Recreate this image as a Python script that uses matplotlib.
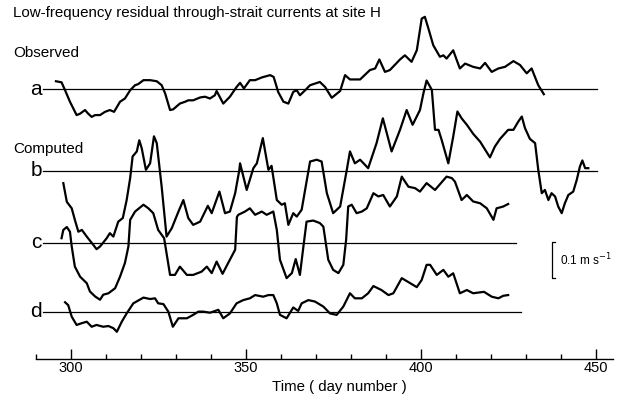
import matplotlib
matplotlib.use("Agg")
import matplotlib.pyplot as plt
import numpy as np

plt.rcParams['font.family'] = ['Liberation Sans', 'DejaVu Sans']

# velocities in cm/s, time in day number
a_day = [295.7, 297.3, 298.3, 299.7, 301.6, 302.6, 304.0, 304.9, 305.9, 306.9, 308.3, 309.7,
         311.1, 312.3, 314.0, 315.4, 316.9, 318.3, 319.2, 320.7, 322.6, 324.5, 325.9, 326.9,
         328.3, 329.2, 331.1, 332.6, 333.5, 334.9, 336.9, 338.3, 339.7, 341.1, 341.6, 343.5,
         345.4, 347.3, 348.3, 349.4, 351.1, 352.6, 354.5, 356.9, 357.9, 359.2, 360.7, 362.1,
         363.5, 364.5, 365.4, 366.9, 368.3, 371.1, 372.6, 374.5, 376.9, 378.3, 379.7, 382.6,
         385.4, 386.9, 388.1, 389.7, 391.1, 394.0, 395.4, 397.3, 398.8, 400.2, 401.1, 402.1,
         403.5, 405.4, 406.4, 407.3, 409.2, 410.2, 411.1, 412.6, 414.9, 416.9, 418.3, 420.2,
         422.1, 424.0, 426.4, 428.3, 430.2, 431.6, 433.5, 435.1]
a_vel = [2.2, 1.9, -0.3, -3.5, -7.2, -6.8, -5.8, -6.8, -7.7, -7.2, -7.2, -6.3,
         -5.8, -6.3, -3.5, -2.6, -0.3, 1.1, 1.4, 2.5, 2.5, 2.2, 1.1, -1.2,
         -5.8, -5.6, -4.0, -3.5, -3.1, -3.1, -2.3, -2.1, -2.6, -1.7, -0.5, -4.0,
         -2.1, 0.6, 1.75, 0.2, 2.5, 2.5, 3.25, 3.9, 3.4, -0.8, -3.5, -4.0,
         -0.75, -0.3, -1.7, -0.3, 1.1, 2.0, 0.6, -2.4, -0.5, 3.9, 2.7, 2.7,
         5.3, 5.75, 8.25, 4.8, 5.3, 8.25, 9.4, 7.6, 10.8, 19.6, 20.1, 16.9,
         12.2, 9.0, 9.4, 8.5, 10.8, 8.1, 5.75, 7.1, 6.2, 5.75, 7.3, 4.8,
         5.75, 6.2, 7.8, 6.7, 4.4, 5.75, 1.1, -1.4]

b_day = [297.8, 298.8, 300.2, 301.1, 302.1, 303.1, 304.5, 306.4, 307.3, 308.3, 310.2, 311.1,
         312.1, 313.5, 314.8, 315.9, 316.9, 317.6, 318.8, 319.5, 320.2, 321.4, 322.6, 323.7,
         324.5, 325.9, 327.3, 328.8, 330.7, 332.1, 333.5, 334.9, 336.9, 339.1, 340.2, 342.4,
         344.0, 345.4, 346.9, 348.1, 348.3, 350.2, 352.1, 353.1, 354.8, 356.4, 357.3, 358.8,
         360.2, 361.1, 362.1, 363.5, 364.5, 365.9, 368.3, 370.2, 371.6, 373.1, 374.9, 376.9,
         378.8, 379.7, 381.1, 382.6, 384.9, 387.3, 389.1, 391.6, 394.0, 395.9, 397.6, 399.7,
         400.7, 401.6, 403.1, 404.0, 405.0, 405.9, 407.8, 409.2, 410.4, 411.6, 413.1, 414.9,
         416.9, 419.7, 421.1, 422.6, 424.9, 426.4, 427.8, 428.8, 429.7, 431.1, 432.6, 433.5,
         434.5, 435.4, 436.4, 437.3, 438.3, 439.2, 440.2, 441.1, 442.1, 443.5, 444.5, 445.4,
         446.1, 446.9, 447.8]
b_vel = [-3.4, -8.6, -10.4, -13.6, -16.9, -16.4, -18.25, -20.6, -21.75, -21.0, -18.7, -17.3,
         -18.25, -14.1, -13.1, -8.1, -2.0, 4.0, 5.4, 8.5, 6.3, 0.3, 2.1, 9.6,
         7.7, -4.4, -18.25, -15.9, -11.3, -8.1, -13.1, -15.0, -14.1, -9.7, -11.75, -5.75,
         -11.75, -11.3, -6.2, 0.3, 2.1, -5.3, 0.75, 2.1, 9.1, 0.3, 1.4, -8.1,
         -9.4, -9.0, -15.0, -11.75, -12.7, -10.8, 2.6, 3.1, 2.6, -6.2, -11.75, -9.9,
         0.3, 5.4, 2.1, 3.1, 0.75, 7.7, 14.6, 5.4, 11.4, 16.9, 12.8, 16.9,
         21.6, 25.1, 22.5, 11.4, 11.4, 8.6, 2.1, 9.5, 16.5, 14.6, 12.8, 10.3,
         8.1, 3.75, 6.75, 8.9, 11.4, 11.4, 13.7, 15.1, 11.9, 8.9, 7.7, 0.3,
         -6.2, -5.3, -8.1, -6.2, -7.1, -9.9, -11.75, -9.0, -6.7, -5.75, -2.5, 1.2,
         2.9, 0.75, 0.75]

c_day = [297.3, 297.8, 298.8, 299.7, 300.2, 301.1, 302.6, 304.5, 305.4, 306.9, 308.3, 309.2,
         310.7, 312.6, 314.0, 315.4, 316.4, 316.9, 318.3, 320.7, 322.1, 323.5, 324.9, 326.6,
         327.3, 328.3, 329.7, 331.1, 333.1, 334.9, 337.3, 338.8, 340.2, 341.6, 343.3, 344.9,
         346.9, 347.4, 347.8, 349.7, 351.1, 352.6, 354.5, 355.9, 357.8, 358.8, 359.7, 361.6,
         363.1, 364.2, 365.4, 366.4, 367.3, 369.2, 371.1, 372.1, 373.5, 374.9, 376.4, 377.8,
         378.6, 379.2, 380.2, 381.6, 383.1, 384.5, 386.4, 387.8, 389.2, 391.1, 393.1, 394.5,
         396.4, 398.3, 399.7, 401.6, 404.0, 407.3, 408.8, 409.7, 411.6, 413.1, 414.9, 416.9,
         418.8, 420.7, 421.6, 423.5, 424.9]
c_vel = [1.3, 3.6, 4.4, 3.1, -1.0, -6.6, -9.4, -11.2, -13.5, -14.9, -15.8, -14.4,
         -14.0, -12.6, -9.4, -5.6, -1.0, 6.4, 8.7, 10.6, 9.6, 8.25, 3.6, 1.3,
         -2.9, -8.9, -8.9, -6.6, -8.9, -8.9, -8.0, -6.6, -8.4, -5.2, -8.6, -5.6,
         -1.9, 7.2, 7.8, 8.7, 9.6, 7.8, 8.7, 7.8, 8.7, 3.6, -4.7, -9.8,
         -8.4, -4.5, -8.9, -1.0, 5.9, 6.2, 5.5, 4.5, -4.7, -7.5, -8.4, -6.1,
         0.8, 10.1, 10.6, 8.25, 8.7, 9.6, 13.8, 12.9, 13.3, 10.1, 12.9, 18.4,
         15.6, 15.2, 14.25, 16.6, 14.7, 18.4, 18.0, 17.0, 11.9, 13.3, 11.5, 11.0,
         9.6, 6.4, 9.6, 10.1, 10.8]

d_day = [298.3, 299.2, 300.2, 301.6, 303.1, 304.5, 305.9, 307.3, 309.2, 310.7, 312.1, 313.1,
         314.5, 315.9, 317.8, 320.7, 322.6, 324.0, 324.9, 326.4, 327.8, 329.1, 330.7, 333.1,
         334.9, 336.4, 337.8, 339.7, 342.1, 343.5, 345.4, 347.3, 349.2, 351.1, 352.6, 354.9,
         356.4, 357.8, 358.8, 359.7, 361.6, 363.5, 364.9, 365.9, 367.8, 369.7, 372.1, 374.0,
         375.9, 377.8, 379.7, 381.1, 383.1, 384.9, 386.4, 388.7, 390.7, 392.1, 394.5, 396.4,
         398.8, 400.2, 401.6, 402.6, 404.5, 406.4, 407.8, 409.2, 411.1, 413.1, 414.9, 418.0,
         420.2, 422.1, 423.5, 424.9]
d_vel = [2.7, 1.9, -1.3, -3.6, -3.1, -2.7, -4.1, -3.6, -4.1, -3.9, -4.5, -5.5,
         -2.7, -0.4, 2.4, 4.0, 3.6, 3.8, 2.4, 2.2, 0.1, -4.1, -1.75, -1.75,
         -0.8, 0.1, 0.1, -0.2, 0.6, -1.75, -0.4, 2.4, 3.3, 3.8, 4.7, 4.25,
         4.7, 4.7, 2.4, -0.8, -1.75, 1.25, 0.3, 2.4, 3.3, 2.9, 1.5, -0.4,
         -0.8, 1.5, 5.2, 3.8, 3.8, 5.2, 7.2, 6.1, 4.7, 5.2, 9.4, 8.3,
         6.9, 8.9, 13.1, 13.1, 10.3, 11.7, 9.8, 10.75, 5.2, 6.1, 5.2, 5.6,
         4.25, 3.8, 4.5, 4.7]

labels = ['a', 'b', 'c', 'd']
baseline_end = [450.2, 450.2, 427.1, 428.6]
scale_bar = 10  # cm/s = 0.1 m/s

offsets = [61.9, 39.2, 19.2, 0.0]
series = [(a_day, a_vel), (b_day, b_vel), (c_day, c_vel), (d_day, d_vel)]

fig = plt.figure(figsize=(6.19, 3.98), dpi=100)
ax = fig.add_axes([0, 39 / 398, 1, 359 / 398])
ax.set_xlim(279.71, 456.57)
ax.set_ylim(-13.06, 86.67)

for lab, (dd, vv), off, xend in zip(labels, series, offsets, baseline_end):
    ax.plot([292.0, xend], [off, off], color='black', lw=0.9)
    ax.plot(dd, np.array(vv) + off, color='black', lw=1.6, solid_joinstyle='round')
    ax.text(291.7, off, lab, fontsize=15, ha='right', va='center')

# scale bar
sx = 437.4
ax.plot([sx + 0.9, sx, sx, sx + 0.9], [19.4, 19.4, 19.4 - scale_bar, 19.4 - scale_bar],
        color='black', lw=0.9)
ax.text(sx + 2.4, 19.4 - scale_bar / 2, '0.1 m s$^{-1}$', fontsize=8.5, va='center', ha='left')

# time axis
for s in ['top', 'left', 'right']:
    ax.spines[s].set_visible(False)
ax.spines['bottom'].set_bounds(290, 454.8)
ax.spines['bottom'].set_linewidth(1.0)
ax.set_yticks([])
ax.set_xticks([300, 350, 400, 450])
ax.set_xticks([290, 310, 320, 330, 340, 360, 370, 380, 390, 410, 420, 430, 440], minor=True)
ax.tick_params(axis='x', which='major', direction='in', length=7, width=1, labelsize=10.5, pad=1.5)
ax.tick_params(axis='x', which='minor', direction='in', length=3.5, width=1)

fig.text(339 / 619, 1 - 387 / 398, 'Time ( day number )', fontsize=10.8, ha='center', va='center')
fig.text(13 / 619, 1 - 13 / 398, 'Low-frequency residual through-strait currents at site H',
         fontsize=10.9, ha='left', va='center')
fig.text(13 / 619, 1 - 53 / 398, 'Observed', fontsize=11, ha='left', va='center')
fig.text(13 / 619, 1 - 149 / 398, 'Computed', fontsize=11, ha='left', va='center')

fig.savefig('out.png', dpi=100)
